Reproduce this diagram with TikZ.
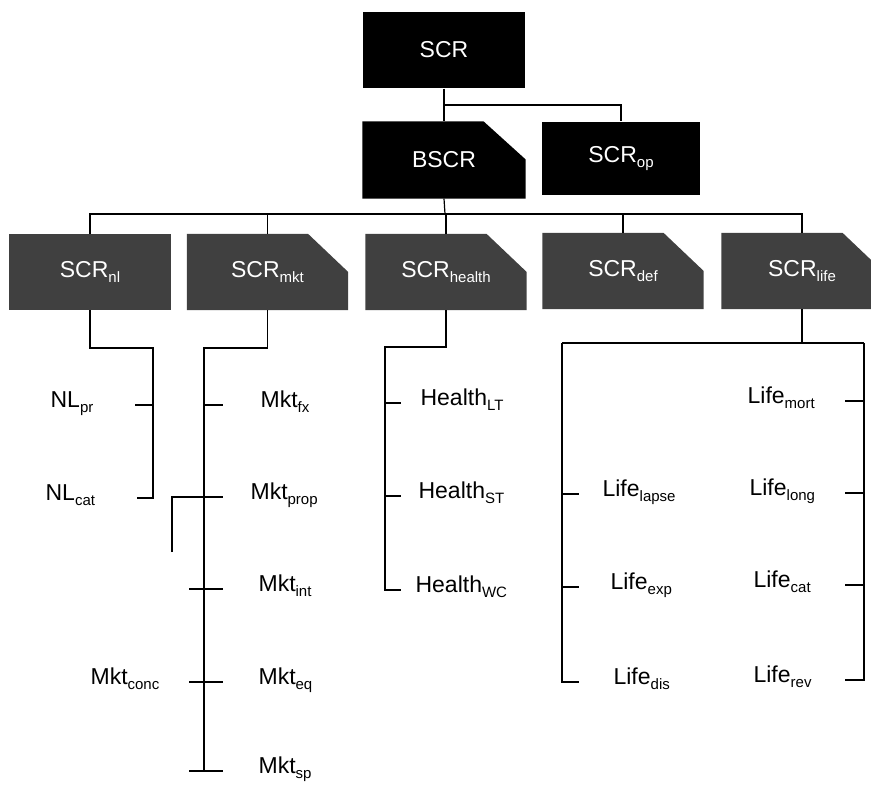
\documentclass[tikz,border=0pt]{standalone}
\usepackage{fontspec}
\setmainfont{Liberation Sans}
\usepackage{tikz}
\usetikzlibrary{backgrounds}
\newcommand{\subtx}[1]{\raisebox{-5pt}{\fontsize{15}{15}\selectfont #1}}

\begin{document}
\begin{tikzpicture}[x = 1pt, y = -1pt, line width = 1.2pt,
  blackbox/.style = {fill = black, text = white, inner sep = 0pt,
    minimum width = 162pt, minimum height = 76pt,
    font = \fontsize{23}{23}\selectfont},
  cutbox/.style = {blackbox, fill = none},
  greybox/.style = {cutbox, minimum width = 160pt, minimum height = 75pt},
  leaf/.style = {inner sep = 0pt, anchor = mid west, font = \fontsize{23}{23}\selectfont}]
\useasboundingbox (0,0) rectangle (871,785);

\node[blackbox] (scr) at (444,50) {SCR};
\node[cutbox] (bscr) at (444,160) {BSCR};
\node[blackbox, minimum width = 158pt, minimum height = 73pt] (scrop) at (621,158.5) {SCR\subtx{op}};

\node[greybox] (nl) at (90,272) {SCR\subtx{nl}};
\node[greybox] (mkt) at (267.5,272) {SCR\subtx{mkt}};
\node[greybox] (health) at (446,272) {SCR\subtx{health}};
\node[greybox] (def) at (623,271) {SCR\subtx{def}};
\node[greybox] (life) at (802,271) {SCR\subtx{life}};

\begin{scope}[on background layer]
\fill[black] (bscr.south west) |- ([xshift=-42pt]bscr.north east)
  -- ([yshift=-38pt]bscr.north east) -- (bscr.south east) -- cycle;
\fill[black!75] (nl.south west) rectangle (nl.north east);
\foreach \n in {mkt, health, def, life}
  \fill[black!75] (\n.south west) |- ([xshift=-40pt]\n.north east)
    -- ([yshift=-38pt]\n.north east) -- (\n.south east) -- cycle;
\end{scope}

\node[leaf] (nlpr) at (50,405) {NL\subtx{pr}};
\node[leaf] (nlcat) at (45,498) {NL\subtx{cat}};

\node[leaf] (mktfx) at (260,405) {Mkt\subtx{fx}};
\node[leaf] (mktprop) at (250,497) {Mkt\subtx{prop}};
\node[leaf] (mktint) at (258,589) {Mkt\subtx{int}};
\node[leaf] (mkteq) at (258,682) {Mkt\subtx{eq}};
\node[leaf] (mktsp) at (258,771) {Mkt\subtx{sp}};
\node[leaf] (mktconc) at (90,682) {Mkt\subtx{conc}};

\node[leaf] (healthlt) at (420,403) {Health\subtx{LT}};
\node[leaf] (healthst) at (418,496) {Health\subtx{ST}};
\node[leaf] (healthwc) at (415,590) {Health\subtx{WC}};

\node[leaf] (lifelapse) at (602,494) {Life\subtx{lapse}};
\node[leaf] (lifeexp) at (610,587) {Life\subtx{exp}};
\node[leaf] (lifedis) at (613,682) {Life\subtx{dis}};
\node[leaf] (lifemort) at (747,401) {Life\subtx{mort}};
\node[leaf] (lifelong) at (749,493) {Life\subtx{long}};
\node[leaf] (lifecat) at (753,585) {Life\subtx{cat}};
\node[leaf] (liferev) at (753,680) {Life\subtx{rev}};

\coordinate (top) at (445,105);
\coordinate (row) at (445,214);
\draw (scr) -- (bscr);
\draw (top) -| (scrop.north);
\draw (bscr.south) -- (row);
\draw (nl.north) |- (life.north |- row) -- (life.north);
\foreach \n in {mkt, health, def}
  \draw (\n.north) -- (\n.north |- row);

\coordinate (nlbus) at (153,348);
\draw (nl.south) |- (nlbus) -- (nlbus |- nlcat.mid) -- ++(-16,0);
\draw (nlbus |- nlpr.mid) -- ++(-18,0);

\coordinate (mktbus) at (204,348);
\draw (mkt.south) |- (mktbus) -- (mktbus |- mktsp.mid);
\draw (mktbus |- mktfx.mid) -- ++(19,0);
\draw (mktbus |- mktprop.mid) ++(-32,55) -- ++(0,-55) -- ++(51,0);
\foreach \n in {mktint, mkteq, mktsp}
  \draw (mktbus |- \n.mid) ++(-15,0) -- ++(34,0);

\coordinate (healthbus) at (385,347);
\draw (health.south) |- (healthbus) -- (healthbus |- healthwc.mid) -- ++(16,0);
\foreach \n in {healthlt, healthst}
  \draw (healthbus |- \n.mid) -- ++(16,0);

\coordinate (lifel) at (562,343);
\coordinate (lifer) at (864,343);
\draw (life.south) -- (life.south |- lifel);
\draw (lifel) -- (lifer);
\draw (lifel) -- (lifel |- lifedis.mid) -- ++(17,0);
\draw (lifer) -- (lifer |- liferev.mid) -- ++(-19,0);
\foreach \n in {lifelapse, lifeexp}
  \draw (lifel |- \n.mid) -- ++(17,0);
\foreach \n in {lifemort, lifelong, lifecat}
  \draw (lifer |- \n.mid) -- ++(-19,0);
\end{tikzpicture}
\end{document}
